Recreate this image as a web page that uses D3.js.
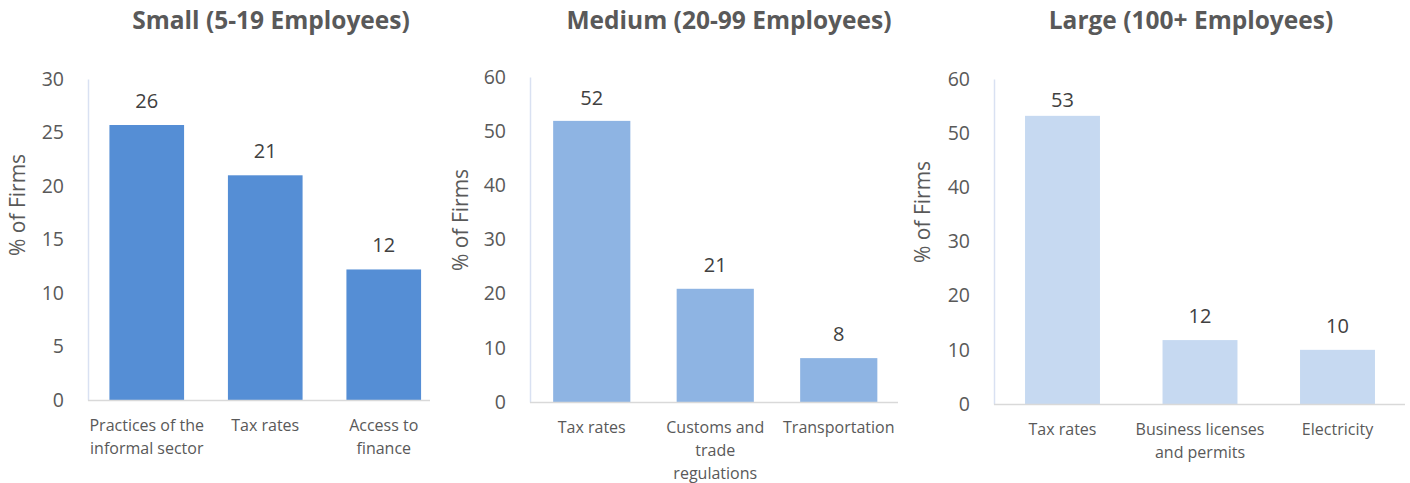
<!DOCTYPE html>
<html>
<head>
<meta charset="utf-8">
<script src="https://cdn.jsdelivr.net/npm/d3@7"></script>
<style>
  body { margin: 0; background: #fff; }
  text { font-family: "Open Sans", "Noto Sans", sans-serif; }
</style>
</head>
<body>
<div id="chart"></div>
<script>
// data
var titles = ["Small (5-19 Employees)", "Medium (20-99 Employees)", "Large (100+ Employees)"];
var smallCats = ["Practices of the\ninformal sector", "Tax rates", "Access to\nfinance"];
var smallVals = [25.7, 21.0, 12.2];
var smallLabels = ["26", "21", "12"];
var mediumCats = ["Tax rates", "Customs and\ntrade\nregulations", "Transportation"];
var mediumVals = [51.9, 20.9, 8.1];
var mediumLabels = ["52", "21", "8"];
var largeCats = ["Tax rates", "Business licenses\nand permits", "Electricity"];
var largeVals = [53.2, 11.8, 10.0];
var largeLabels = ["53", "12", "10"];
var smallTicks = [0, 5, 10, 15, 20, 25, 30];
var bigTicks = [0, 10, 20, 30, 40, 50, 60];

var width = 1410, height = 483;
var colors = ["#558ed5", "#8eb4e3", "#c6d9f1"];
var textColor = "#595959";

// layout for each panel
var panels = [
  {title: titles[0], cats: smallCats, vals: smallVals, labels: smallLabels, ticks: smallTicks, max: 30,
   axisX: 88, axisEnd: 430, top: 79, base: 400, band: [87.5, 443], pad: 0.37, titleX: 271, ylabX: 18, ylabY: 205},
  {title: titles[1], cats: mediumCats, vals: mediumVals, labels: mediumLabels, ticks: bigTicks, max: 60,
   axisX: 530, axisEnd: 898, top: 77, base: 402, band: [530, 900.5], pad: 0.375, titleX: 729, ylabX: 461, ylabY: 220},
  {title: titles[2], cats: largeCats, vals: largeVals, labels: largeLabels, ticks: bigTicks, max: 60,
   axisX: 994, axisEnd: 1405, top: 79, base: 404, band: [993.75, 1406.25], pad: 0.455, titleX: 1191, ylabX: 923, ylabY: 212}
];

var svg = d3.select("#chart").append("svg")
    .attr("width", width)
    .attr("height", height);

panels.forEach(function(p, i) {
  var g = svg.append("g");

  var y = d3.scaleLinear()
      .domain([0, p.max])
      .range([p.base, p.top]);

  var x = d3.scaleBand()
      .domain(p.cats)
      .range(p.band)
      .paddingInner(p.pad)
      .paddingOuter(p.pad / 2);

  // title
  g.append("text")
    .attr("x", p.titleX)
    .attr("y", 29)
    .attr("text-anchor", "middle")
    .attr("font-size", 24.5)
    .attr("font-weight", "bold")
    .attr("fill", textColor)
    .text(p.title);

  // y axis
  var yAxis = d3.axisLeft(y).tickValues(p.ticks).tickSize(0).tickPadding(24);
  var ya = g.append("g")
      .attr("transform", "translate(" + p.axisX + ",0)")
      .call(yAxis);
  ya.select(".domain").attr("stroke", "#d9e1f2").attr("stroke-width", 1.5);
  ya.selectAll("text")
    .attr("font-size", 19.5)
    .attr("fill", textColor)
    .attr("font-family", "'Open Sans', sans-serif");

  // y label
  g.append("text")
    .attr("transform", "translate(" + p.ylabX + "," + p.ylabY + ") rotate(-90)")
    .attr("text-anchor", "middle")
    .attr("dy", "0.35em")
    .attr("font-size", 21)
    .attr("fill", textColor)
    .text("% of Firms");

  // bars
  g.selectAll(".bar")
    .data(p.vals)
    .enter()
    .append("rect")
    .attr("class", "bar")
    .attr("x", function(d, j) { return x(p.cats[j]); })
    .attr("y", function(d) { return y(d); })
    .attr("width", x.bandwidth())
    .attr("height", function(d) { return p.base - y(d); })
    .attr("fill", colors[i]);

  // x axis line
  g.append("line")
    .attr("x1", p.axisX)
    .attr("x2", p.axisEnd)
    .attr("y1", p.base + 0.5)
    .attr("y2", p.base + 0.5)
    .attr("stroke", "#d9d9d9")
    .attr("stroke-width", 1.5);

  // value labels
  g.selectAll(".val")
    .data(p.vals)
    .enter()
    .append("text")
    .attr("class", "val")
    .attr("x", function(d, j) { return x(p.cats[j]) + x.bandwidth() / 2; })
    .attr("y", function(d) { return Math.max(y(d) - 17, p.top + 28); })
    .attr("text-anchor", "middle")
    .attr("font-size", 20)
    .attr("fill", "#404040")
    .text(function(d, j) { return p.labels[j]; });

  // category labels
  p.cats.forEach(function(c) {
    var t = g.append("text")
      .attr("x", x(c) + x.bandwidth() / 2)
      .attr("y", p.base + 31)
      .attr("text-anchor", "middle")
      .attr("font-size", 16)
      .attr("fill", textColor);
    c.split("\n").forEach(function(line, k) {
      t.append("tspan")
        .attr("x", x(c) + x.bandwidth() / 2)
        .attr("dy", k == 0 ? 0 : 23)
        .text(line);
    });
  });
});
</script>
</body>
</html>
